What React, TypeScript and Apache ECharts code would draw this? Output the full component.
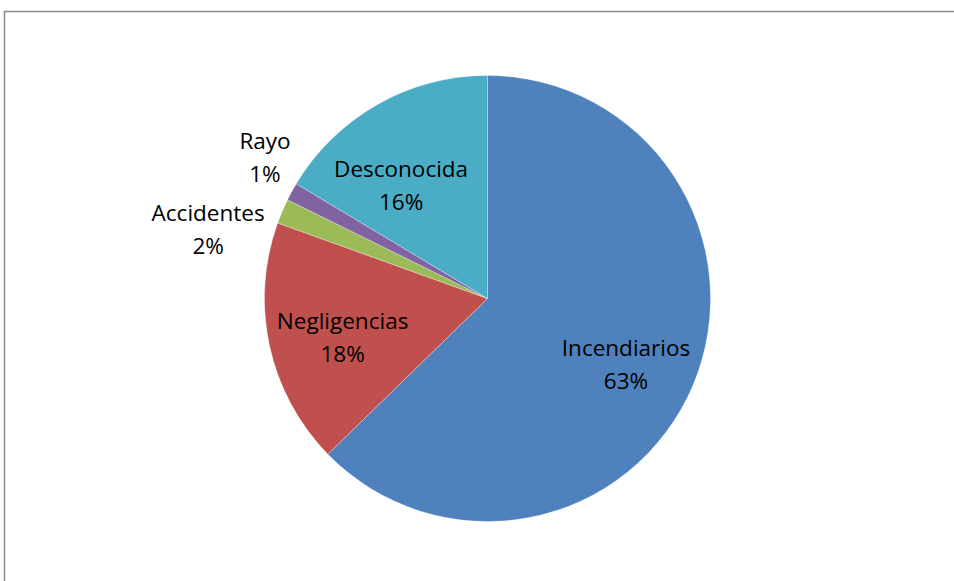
import React, { useEffect, useRef } from "react";
import * as echarts from "echarts";

const categories = ["Incendiarios", "Negligencias", "Accidentes", "Rayo", "Desconocida"];
const values = [62.7, 17.8, 1.8, 1.3, 16.4];
const colors = ["#4F81BD", "#C0504D", "#9BBB59", "#8064A2", "#4BACC6"];
// label shifts from the inside anchor point, per slice
const labelShift = [
  [33, 21],
  [-33, 14],
  [-174, -25],
  [-122, -87],
  [-30, -14],
];

export default function App() {
  const ref = useRef<HTMLDivElement>(null);
  useEffect(() => {
    if (!ref.current) return;
    const chart = echarts.init(ref.current, undefined, { renderer: "svg" });
    chart.setOption({
      animation: false,
      backgroundColor: "#ffffff",
      graphic: [
        {
          type: "rect",
          shape: { x: 4.5, y: 11.5, width: 1200, height: 1000 },
          style: { fill: "none", stroke: "#878787", lineWidth: 1.5 },
          silent: true,
        },
      ],
      series: [
        {
          type: "pie",
          center: [487.5, 298.5],
          radius: 223,
          startAngle: 90,
          clockwise: true,
          percentPrecision: 0,
          avoidLabelOverlap: false,
          itemStyle: { borderColor: "#ffffff", borderWidth: 0.3 },
          label: {
            show: true,
            position: "inside",
            formatter: "{b}\n{d}%",
            color: "#000000",
            fontFamily: "Open Sans",
            fontSize: 22.5,
            lineHeight: 33,
            align: "center",
          },
          labelLine: { show: false },
          labelLayout: (params: any) => {
            const s = labelShift[params.dataIndex];
            return { dx: s[0], dy: s[1] };
          },
          data: categories.map((c, i) => ({
            name: c,
            value: values[i],
            itemStyle: { color: colors[i] },
          })),
        },
      ],
    });
    return () => chart.dispose();
  }, []);
  return (
    <div
      ref={ref}
      style={{ position: "fixed", left: 0, top: 0, width: 954, height: 581 }}
    />
  );
}
